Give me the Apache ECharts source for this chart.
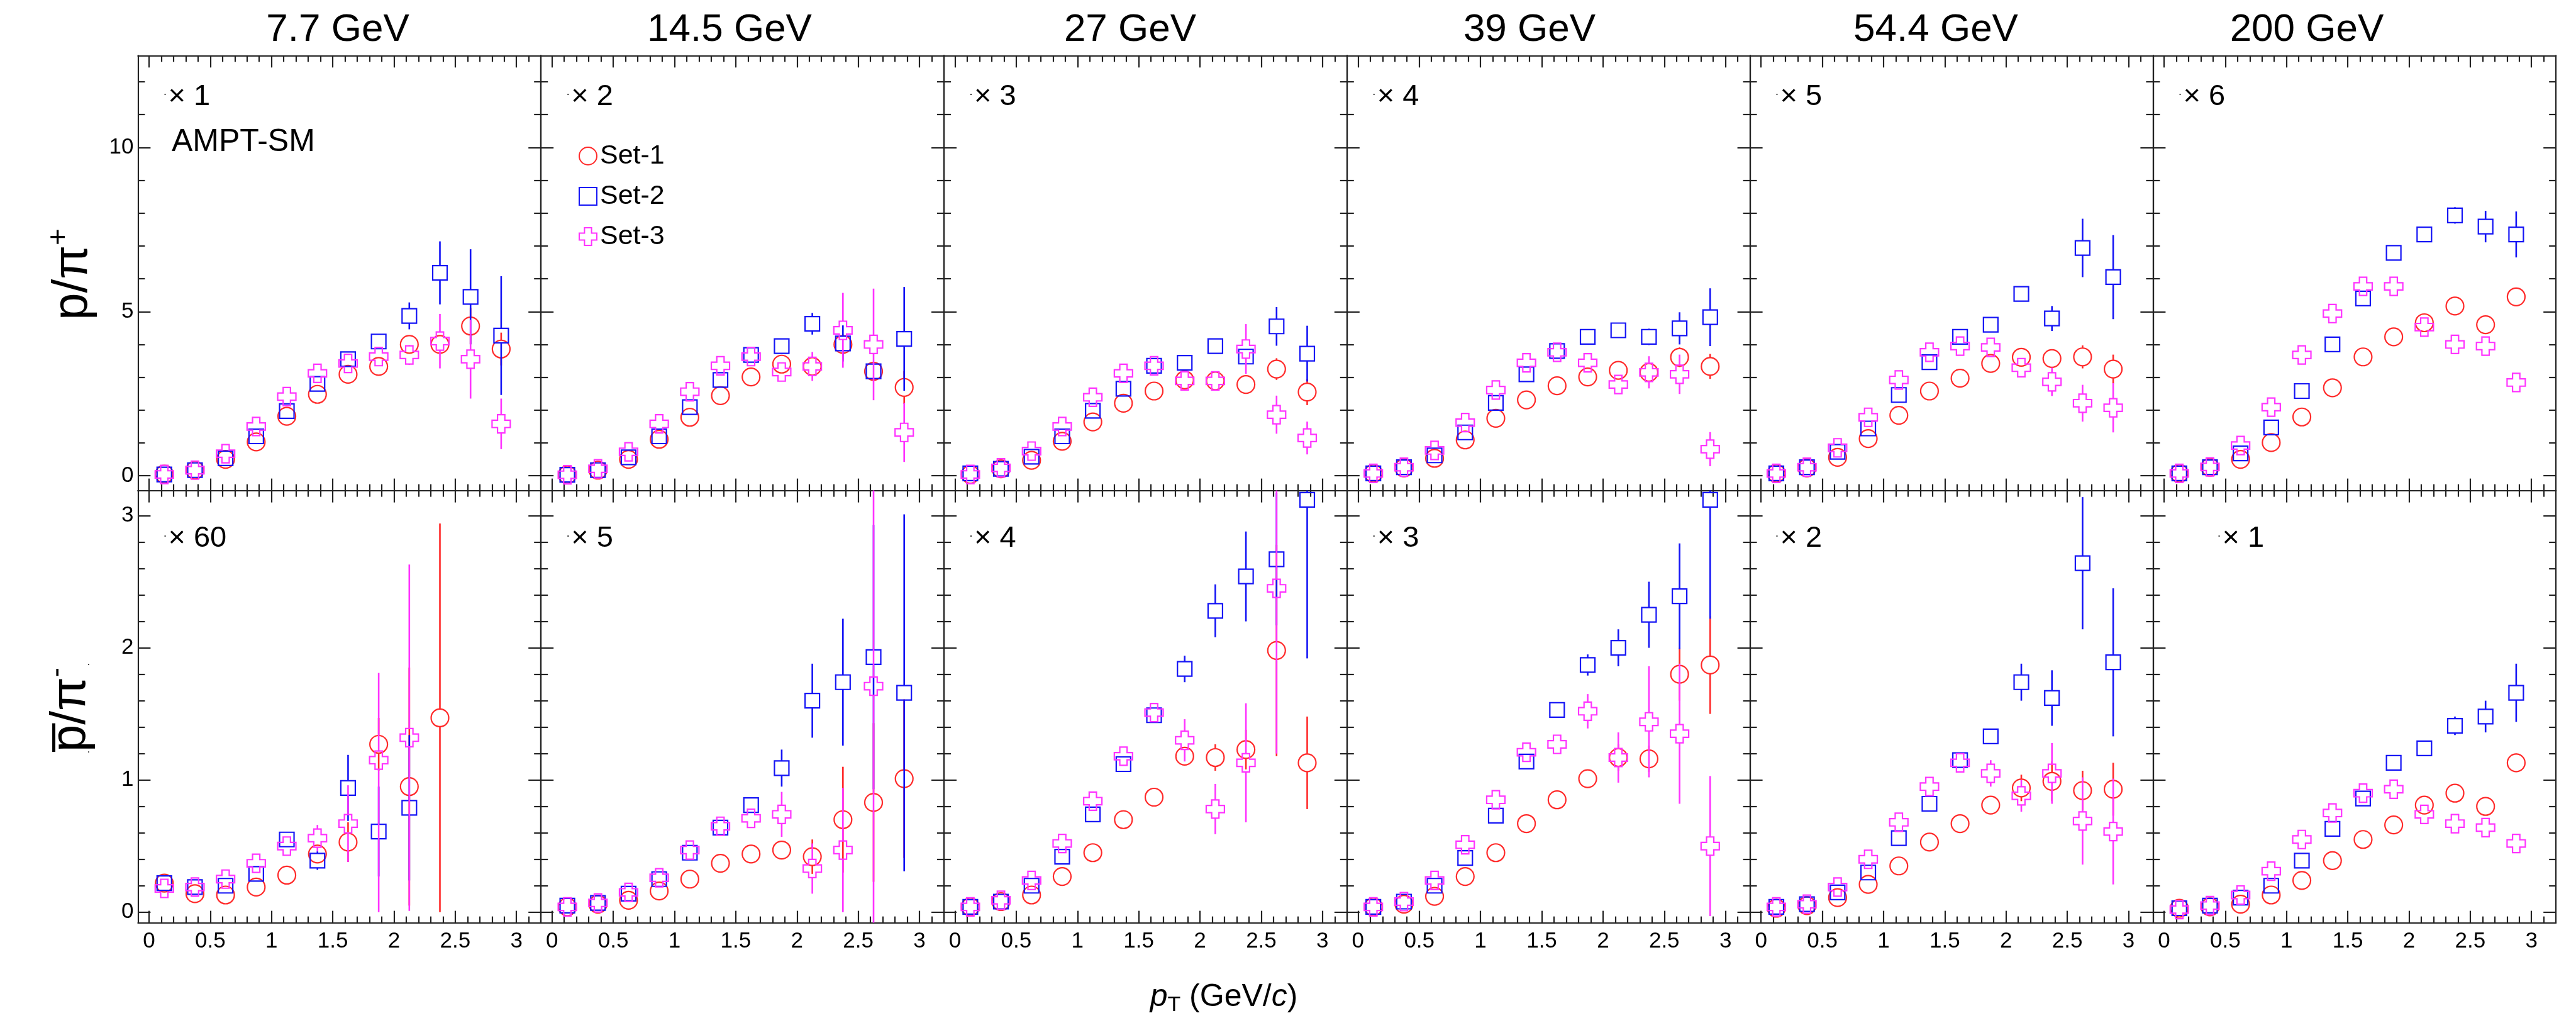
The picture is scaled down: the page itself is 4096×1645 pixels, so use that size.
<!DOCTYPE html>
<html><head><meta charset="utf-8">
<script src="https://cdn.jsdelivr.net/npm/echarts@6/dist/echarts.min.js"></script>
<style>html,body{margin:0;padding:0;background:#fff}#c{width:4096px;height:1645px}</style>
</head><body><div id="c"></div>
<script>
// ---------------- DATA ----------------
const energies = ['7.7 GeV', '14.5 GeV', '27 GeV', '39 GeV', '54.4 GeV', '200 GeV'];
const topScaleLabels = ['× 1', '× 2', '× 3', '× 4', '× 5', '× 6'];
const botScaleLabels = ['× 60', '× 5', '× 4', '× 3', '× 2', '× 1'];
const setNames = ['Set-1', 'Set-2', 'Set-3'];
const pT = [0.125, 0.375, 0.625, 0.875, 1.125, 1.375, 1.625, 1.875, 2.125, 2.375, 2.625, 2.875];

const xMajorTicks = [0, 0.5, 1, 1.5, 2, 2.5, 3];
const xMinorTicks = [0.1,0.2,0.3,0.4,0.6,0.7,0.8,0.9,1.1,1.2,1.3,1.4,1.6,1.7,1.8,1.9,2.1,2.2,2.3,2.4,2.6,2.7,2.8,2.9,3.1];
const yMajorTop = [0, 5, 10];
const yMinorTop = [1, 2, 3, 4, 6, 7, 8, 9, 11, 12];
const yMajorBot = [0, 1, 2, 3];
const yMinorBot = [0.2,0.4,0.6,0.8,1.2,1.4,1.6,1.8,2.2,2.4,2.6,2.8];

// p/pi+ (top row). errors: number = symmetric, [down, up] = asymmetric
const top_7p7_s1 = [0.05,0.17,0.5,1.03,1.81,2.48,3.09,3.33,4.0,4.0,4.56,3.86];
const top_7p7_s1_err = [0,0,0,0,0,0,0,0,0.1,0.2,0.55,0.5];
const top_7p7_s2 = [0.04,0.17,0.53,1.2,1.97,2.8,3.55,4.09,4.87,6.18,5.45,4.27];
const top_7p7_s2_err = [0,0,0,0,0,0,0,0.1,0.41,0.96,1.45,1.81];
const top_7p7_s3 = [0.04,0.17,0.67,1.5,2.41,3.12,3.42,3.63,3.68,4.1,3.55,1.58];
const top_7p7_s3_err = [0,0,0,0,0,0,0,0.1,0.3,0.83,1.2,0.77];

const top_14p5_s1 = [0.03,0.17,0.5,1.11,1.78,2.44,3.01,3.4,3.33,4.0,3.18,2.69];
const top_14p5_s1_err = [0,0,0,0,0,0,0,0,0.1,0.3,0.2,0.5];
const top_14p5_s2 = [0.03,0.17,0.56,1.2,2.09,2.92,3.68,3.95,4.63,4.03,3.18,4.17];
const top_14p5_s2_err = [0,0,0,0,0,0,0,0,0.33,0.55,0.2,1.58];
const top_14p5_s3 = [0.03,0.21,0.73,1.58,2.56,3.35,3.63,3.16,3.33,4.43,4.0,1.32];
const top_14p5_s3_err = [0,0,0,0,0,0,0,0.1,0.44,1.14,1.7,0.9];

const top_27_s1 = [0.04,0.21,0.47,1.05,1.64,2.21,2.58,2.92,2.89,2.78,3.25,2.55];
const top_27_s1_err = [0,0,0,0,0,0,0,0,0.1,0.15,0.33,0.4];
const top_27_s2 = [0.07,0.21,0.58,1.2,1.98,2.65,3.35,3.44,3.95,3.63,4.55,3.72];
const top_27_s2_err = [0,0,0,0,0,0,0,0,0.1,0.2,0.59,0.85];
const top_27_s3 = [0.04,0.24,0.75,1.5,2.39,3.12,3.35,2.89,2.89,3.86,1.86,1.15];
const top_27_s3_err = [0,0,0,0,0,0,0,0.1,0.1,0.76,0.58,0.5];

const top_39_s1 = [0.07,0.24,0.53,1.09,1.75,2.31,2.74,3.01,3.21,3.15,3.61,3.33];
const top_39_s1_err = [0,0,0,0,0,0,0,0,0.1,0.15,0.3,0.38];
const top_39_s2 = [0.07,0.26,0.62,1.32,2.22,3.09,3.8,4.23,4.43,4.23,4.49,4.83];
const top_39_s2_err = [0,0,0,0,0,0,0,0,0.1,0.25,0.49,0.88];
const top_39_s3 = [0.07,0.26,0.77,1.62,2.61,3.44,3.76,3.44,2.78,3.15,3.09,0.81];
const top_39_s3_err = [0,0,0,0,0,0,0,0,0.1,0.49,0.6,0.52];

const top_54p4_s1 = [0.07,0.24,0.56,1.13,1.84,2.58,2.97,3.42,3.61,3.57,3.62,3.25];
const top_54p4_s1_err = [0,0,0,0,0,0,0,0,0.1,0.2,0.35,0.44];
const top_54p4_s2 = [0.07,0.26,0.73,1.44,2.46,3.46,4.23,4.6,5.54,4.79,6.94,6.05];
const top_54p4_s2_err = [0,0,0,0,0,0,0,0,0.1,0.38,0.89,1.28];
const top_54p4_s3 = [0.07,0.26,0.85,1.78,2.92,3.76,3.95,3.91,3.29,2.86,2.21,2.07];
const top_54p4_s3_err = [0,0,0,0,0,0,0,0,0.1,0.43,0.56,0.75];

const top_200_s1 = [0.07,0.26,0.5,1.01,1.79,2.68,3.62,4.23,4.66,5.17,4.6,5.45];
const top_200_s1_err = [0,0,0,0,0,0,0,0,0,0,0,0.12];
const top_200_s2 = [0.07,0.26,0.68,1.47,2.58,4.0,5.4,6.79,7.35,7.93,7.59,7.35];
const top_200_s2_err = [0,0,0,0,0,0,0,0,0,0.25,0.48,0.7];
const top_200_s3 = [0.07,0.27,0.92,2.09,3.68,4.94,5.77,5.77,4.53,4.0,3.95,2.84];
const top_200_s3_err = [0,0,0,0,0,0,0,0,0,0,0,0.2];

// pbar/pi- (bottom row)
const bot_7p7_s1 = [0.22,0.14,0.13,0.19,0.28,0.44,0.53,1.27,0.95,1.47,null,null];
const bot_7p7_s1_err = [0,0,0,0,0,0.05,0.15,0.2,0.9,1.47,0,0];
const bot_7p7_s2 = [0.22,0.19,0.2,0.29,0.55,0.39,0.94,0.61,0.79,null,null,null];
const bot_7p7_s2_err = [0,0,0,0,0.03,0.07,0.25,0.34,0.55,0,0,0];
const bot_7p7_s3 = [0.18,0.19,0.25,0.37,0.5,0.56,0.67,1.15,1.32,null,null,null];
const bot_7p7_s3_err = [0,0,0,0,0,0.1,0.29,[1.15,0.66],1.31,0,0,0];

const bot_14p5_s1 = [0.04,0.06,0.09,0.16,0.25,0.37,0.44,0.47,0.42,0.7,0.83,1.01];
const bot_14p5_s1_err = [0,0,0,0,0,0,0,0.05,0.13,0.4,0.6,0.6];
const bot_14p5_s2 = [0.05,0.07,0.14,0.25,0.45,0.64,0.81,1.09,1.6,1.74,1.93,1.66];
const bot_14p5_s2_err = [0,0,0,0,0,0,0.03,0.14,0.28,0.48,1.0,1.35];
const bot_14p5_s3 = [0.04,0.07,0.15,0.26,0.47,0.65,0.71,0.74,0.33,0.47,1.71,null];
const bot_14p5_s3_err = [0,0,0,0,0,0,0.07,0.17,0.19,0.47,1.8,0];

const bot_27_s1 = [0.04,0.08,0.13,0.27,0.45,0.7,0.87,1.18,1.17,1.23,1.98,1.13];
const bot_27_s1_err = [0,0,0,0,0,0,0,0.05,0.1,0.15,0.8,0.35];
const bot_27_s2 = [0.04,0.08,0.2,0.42,0.74,1.12,1.49,1.84,2.28,2.54,2.67,3.12];
const bot_27_s2_err = [0,0,0,0,0,0,0,0.1,0.2,0.34,0.5,1.2];
const bot_27_s3 = [0.04,0.09,0.24,0.52,0.84,1.18,1.51,1.3,0.78,1.13,2.45,null];
const bot_27_s3_err = [0,0,0,0,0,0,0.05,0.16,0.19,0.45,1.25,0];

const bot_39_s1 = [0.04,0.06,0.12,0.27,0.45,0.67,0.85,1.01,1.17,1.16,1.8,1.87];
const bot_39_s1_err = [0,0,0,0,0,0,0,0,0.1,0.1,0.2,0.37];
const bot_39_s2 = [0.04,0.08,0.2,0.41,0.73,1.14,1.53,1.87,2.0,2.25,2.39,3.12];
const bot_39_s2_err = [0,0,0,0,0,0,0,0.08,0.14,0.25,0.4,0.9];
const bot_39_s3 = [0.04,0.08,0.24,0.51,0.85,1.21,1.27,1.52,1.17,1.44,1.35,0.5];
const bot_39_s3_err = [0,0,0,0,0,0,0,0.13,0.19,0.42,0.53,0.53];

const bot_54p4_s1 = [0.03,0.05,0.11,0.21,0.35,0.53,0.67,0.81,0.94,0.99,0.92,0.93];
const bot_54p4_s1_err = [0,0,0,0,0,0,0,0,0.1,0.15,0.15,0.2];
const bot_54p4_s2 = [0.04,0.06,0.15,0.3,0.56,0.82,1.15,1.33,1.74,1.62,2.64,1.89];
const bot_54p4_s2_err = [0,0,0,0,0,0,0,0.03,0.14,0.21,0.5,0.56];
const bot_54p4_s3 = [0.04,0.06,0.19,0.4,0.68,0.95,1.13,1.05,0.88,1.05,0.69,0.61];
const bot_54p4_s3_err = [0,0,0,0,0,0,0,0.1,0.12,0.23,0.33,0.4];

const bot_200_s1 = [0.03,0.04,0.06,0.13,0.24,0.39,0.55,0.66,0.81,0.9,0.8,1.13];
const bot_200_s1_err = [0,0,0,0,0,0,0,0,0,0,0,0.07];
const bot_200_s2 = [0.03,0.05,0.11,0.2,0.39,0.63,0.86,1.13,1.24,1.41,1.48,1.66];
const bot_200_s2_err = [0,0,0,0,0,0,0,0,0,0.07,0.12,0.22];
const bot_200_s3 = [0.02,0.05,0.13,0.31,0.55,0.75,0.9,0.93,0.74,0.67,0.64,0.52];
const bot_200_s3_err = [0,0,0,0,0,0,0,0,0,0,0,0];

const panels = [
  {v:[top_7p7_s1, top_7p7_s2, top_7p7_s3], e:[top_7p7_s1_err, top_7p7_s2_err, top_7p7_s3_err]},
  {v:[top_14p5_s1, top_14p5_s2, top_14p5_s3], e:[top_14p5_s1_err, top_14p5_s2_err, top_14p5_s3_err]},
  {v:[top_27_s1, top_27_s2, top_27_s3], e:[top_27_s1_err, top_27_s2_err, top_27_s3_err]},
  {v:[top_39_s1, top_39_s2, top_39_s3], e:[top_39_s1_err, top_39_s2_err, top_39_s3_err]},
  {v:[top_54p4_s1, top_54p4_s2, top_54p4_s3], e:[top_54p4_s1_err, top_54p4_s2_err, top_54p4_s3_err]},
  {v:[top_200_s1, top_200_s2, top_200_s3], e:[top_200_s1_err, top_200_s2_err, top_200_s3_err]},
  {v:[bot_7p7_s1, bot_7p7_s2, bot_7p7_s3], e:[bot_7p7_s1_err, bot_7p7_s2_err, bot_7p7_s3_err]},
  {v:[bot_14p5_s1, bot_14p5_s2, bot_14p5_s3], e:[bot_14p5_s1_err, bot_14p5_s2_err, bot_14p5_s3_err]},
  {v:[bot_27_s1, bot_27_s2, bot_27_s3], e:[bot_27_s1_err, bot_27_s2_err, bot_27_s3_err]},
  {v:[bot_39_s1, bot_39_s2, bot_39_s3], e:[bot_39_s1_err, bot_39_s2_err, bot_39_s3_err]},
  {v:[bot_54p4_s1, bot_54p4_s2, bot_54p4_s3], e:[bot_54p4_s1_err, bot_54p4_s2_err, bot_54p4_s3_err]},
  {v:[bot_200_s1, bot_200_s2, bot_200_s3], e:[bot_200_s1_err, bot_200_s2_err, bot_200_s3_err]}
];

// ---------------- STYLE / LAYOUT ----------------
const FONT = "'Liberation Sans', Arial, Helvetica, sans-serif";
const RED = '#ff2a2a', BLUE = '#1414f5', MAG = '#ff33ff', FRAME = '#222';
const CROSS = 'path://M3,0 L7,0 L7,3 L10,3 L10,7 L7,7 L7,10 L3,10 L3,7 L0,7 L0,3 L3,3 Z';
const setStyles = [
  {symbol:'circle', size:28, color:RED, half:14},
  {symbol:'rect', size:23, color:BLUE, half:11.5},
  {symbol:CROSS, size:29, color:MAG, half:14.5}
];
const L0 = 219.4, PW = 640.8, T0 = 88.3, T1 = 779.6, T2 = 1466.6;
const xRange = [-0.09, 3.2];
const yRangeTop = [-0.45, 12.8];
const yRangeBot = [-0.08, 3.19];

function axisDef(gi, pos, range, ticks, len, labelVals, showLine, isX) {
  return {
    type: 'value', gridIndex: gi, position: pos, min: range[0], max: range[1],
    axisLine: {show: showLine, onZero: false, lineStyle: {color: FRAME, width: 2.2}},
    axisTick: {show: true, inside: true, length: len, customValues: ticks, lineStyle: {color: FRAME, width: 2.2}},
    axisLabel: labelVals ? {show: true, customValues: labelVals, fontSize: 35, color: '#000', fontFamily: FONT,
                 margin: isX ? 12 : 7} : {show: false},
    splitLine: {show: false}, minorTick: {show: false}, minorSplitLine: {show: false},
    axisPointer: {show: false}, silent: true
  };
}

function errRender(half, color) {
  return function (params, api) {
    const x = api.value(0), y = api.value(1), lo = api.value(2), hi = api.value(3);
    const cs = params.coordSys;
    const c = api.coord([x, y]);
    const yt = api.coord([x, y + hi])[1];
    const yb = api.coord([x, y - lo])[1];
    const ymin = cs.y, ymax = cs.y + cs.height;
    const children = [];
    function seg(a, b) {
      a = Math.max(a, ymin); b = Math.min(b, ymax);
      if (b - a > 0.5) children.push({type: 'line', shape: {x1: c[0], y1: a, x2: c[0], y2: b},
        style: {stroke: color, lineWidth: 2.6}});
    }
    seg(yt, c[1] - half);
    seg(c[1] + half, yb);
    return {type: 'group', children: children};
  };
}

const grids = [], xAxes = [], yAxes = [], series = [], graphics = [];

panels.forEach(function (pn, p) {
  const row = p < 6 ? 0 : 1, col = p % 6;
  const left = L0 + col * PW, top = row ? T1 : T0, height = row ? (T2 - T1) : (T1 - T0);
  const g = grids.length;
  grids.push({left: left, top: top, width: PW, height: height, show: false, containLabel: false, outerBoundsMode: 'none'});
  grids.push({left: left, top: top, width: PW, height: height, show: false, containLabel: false, outerBoundsMode: 'none'});
  const yr = row ? yRangeBot : yRangeTop;
  const yMaj = row ? yMajorBot : yMajorTop, yMin = row ? yMinorBot : yMinorTop;
  const xi = xAxes.length, yi = yAxes.length;
  xAxes.push(axisDef(g, 'bottom', xRange, xMajorTicks, 19, row === 1 ? xMajorTicks : null, true, true));
  xAxes.push(axisDef(g, 'top', xRange, xMajorTicks, 19, null, true, true));
  xAxes.push(axisDef(g + 1, 'bottom', xRange, xMinorTicks, 10, null, false, true));
  xAxes.push(axisDef(g + 1, 'top', xRange, xMinorTicks, 10, null, false, true));
  yAxes.push(axisDef(g, 'left', yr, yMaj, 20, col === 0 ? yMaj : null, true, false));
  yAxes.push(axisDef(g, 'right', yr, yMaj, 20, null, true, false));
  yAxes.push(axisDef(g + 1, 'left', yr, yMin, 11, null, false, false));
  yAxes.push(axisDef(g + 1, 'right', yr, yMin, 11, null, false, false));

  for (let s = 0; s < 3; s++) {
    const st = setStyles[s];
    const vals = pn.v[s], errs = pn.e[s];
    const pts = [], ebars = [];
    vals.forEach(function (v, k) {
      if (v === null || v === undefined) return;
      pts.push([pT[k], v]);
      const e = errs[k];
      if (e) {
        const lo = Array.isArray(e) ? e[0] : e, hi = Array.isArray(e) ? e[1] : e;
        ebars.push([pT[k], v, lo, hi]);
      }
    });
    series.push({
      type: 'custom', xAxisIndex: xi, yAxisIndex: yi, data: ebars,
      encode: {x: 0, y: 1}, renderItem: errRender(st.half, st.color), silent: true, z: 3 + s
    });
    series.push({
      type: 'scatter', name: setNames[s], xAxisIndex: xi, yAxisIndex: yi, data: pts,
      symbol: st.symbol, symbolSize: st.size, clip: true,
      itemStyle: {color: 'rgba(0,0,0,0)', borderColor: st.color, borderWidth: 2.2, opacity: 1},
      emphasis: {disabled: true}, silent: true, z: 3 + s
    });
  }

  // scale factor labels
  const lab = row ? botScaleLabels[col] : topScaleLabels[col];
  const lx = left + ((row === 1 && col === 5) ? 102 : 40);
  const ly = top + (row ? 76 : 66);
  graphics.push({type: 'text', x: lx, y: ly, silent: true,
    style: {text: '{d|·}{m|' + lab + '}', verticalAlign: 'middle', align: 'left',
      rich: {d: {fontSize: 18, fontFamily: FONT, fill: '#000', padding: [0, 2, 8, 0]},
             m: {fontSize: 47, fontFamily: FONT, fill: '#000'}}}});
});

// energy titles
const titleCenters = [537, 1160, 1797, 2432, 3078, 3668];
energies.forEach(function (t, i) {
  graphics.push({type: 'text', x: titleCenters[i], y: 48, silent: true,
    style: {text: t, fontSize: 62, fontFamily: FONT, fill: '#000', align: 'center', verticalAlign: 'middle'}});
});

// AMPT-SM
graphics.push({type: 'text', x: 273, y: 226, silent: true,
  style: {text: 'AMPT-SM', fontSize: 50, fontFamily: FONT, fill: '#000', align: 'left', verticalAlign: 'middle'}});

// stray dots near the lower y axis title
graphics.push({type: 'text', x: 141, y: 1057, silent: true,
  style: {text: '·', fontSize: 16, fontFamily: FONT, fill: '#000', align: 'center', verticalAlign: 'middle'}});
graphics.push({type: 'text', x: 141, y: 1196, silent: true,
  style: {text: '·', fontSize: 16, fontFamily: FONT, fill: '#000', align: 'center', verticalAlign: 'middle'}});

// y titles
graphics.push({type: 'text', x: 116, y: 436, rotation: Math.PI / 2, silent: true,
  style: {text: '{n|p/π}{s|+}', align: 'center', verticalAlign: 'middle',
    rich: {n: {fontSize: 78, fontFamily: FONT, fill: '#000', lineHeight: 90},
           s: {fontSize: 46, fontFamily: FONT, fill: '#000', lineHeight: 50, verticalAlign: 'top'}}}});
graphics.push({type: 'text', x: 113, y: 1128, rotation: Math.PI / 2, silent: true,
  style: {text: '{n|p\u0305/π}{s|-}', align: 'center', verticalAlign: 'middle',
    rich: {n: {fontSize: 78, fontFamily: FONT, fill: '#000', lineHeight: 90},
           s: {fontSize: 46, fontFamily: FONT, fill: '#000', lineHeight: 50, verticalAlign: 'top'}}}});

// x title
graphics.push({type: 'text', x: 1946, y: 1585, silent: true,
  style: {text: '{i|p}{b|T}{n| (GeV/}{i|c}{n|)}', align: 'center', verticalAlign: 'middle',
    rich: {i: {fontSize: 50, fontFamily: FONT, fontStyle: 'italic', fill: '#000', lineHeight: 60},
           b: {fontSize: 34, fontFamily: FONT, fill: '#000', lineHeight: 34, verticalAlign: 'bottom'},
           n: {fontSize: 50, fontFamily: FONT, fill: '#000', lineHeight: 60}}}});

const chart = echarts.init(document.getElementById('c'), null, {renderer: 'canvas', width: 4096, height: 1645});
chart.setOption({
  animation: false,
  backgroundColor: '#fff',
  grid: grids, xAxis: xAxes, yAxis: yAxes, series: series,
  legend: {
    data: setNames, orient: 'vertical', left: 915, top: 221, itemWidth: 28, itemHeight: 28, itemGap: 20,
    selectedMode: false, textStyle: {fontSize: 43, fontFamily: FONT, color: '#000', lineHeight: 44}
  },
  graphic: graphics
});
</script></body></html>
